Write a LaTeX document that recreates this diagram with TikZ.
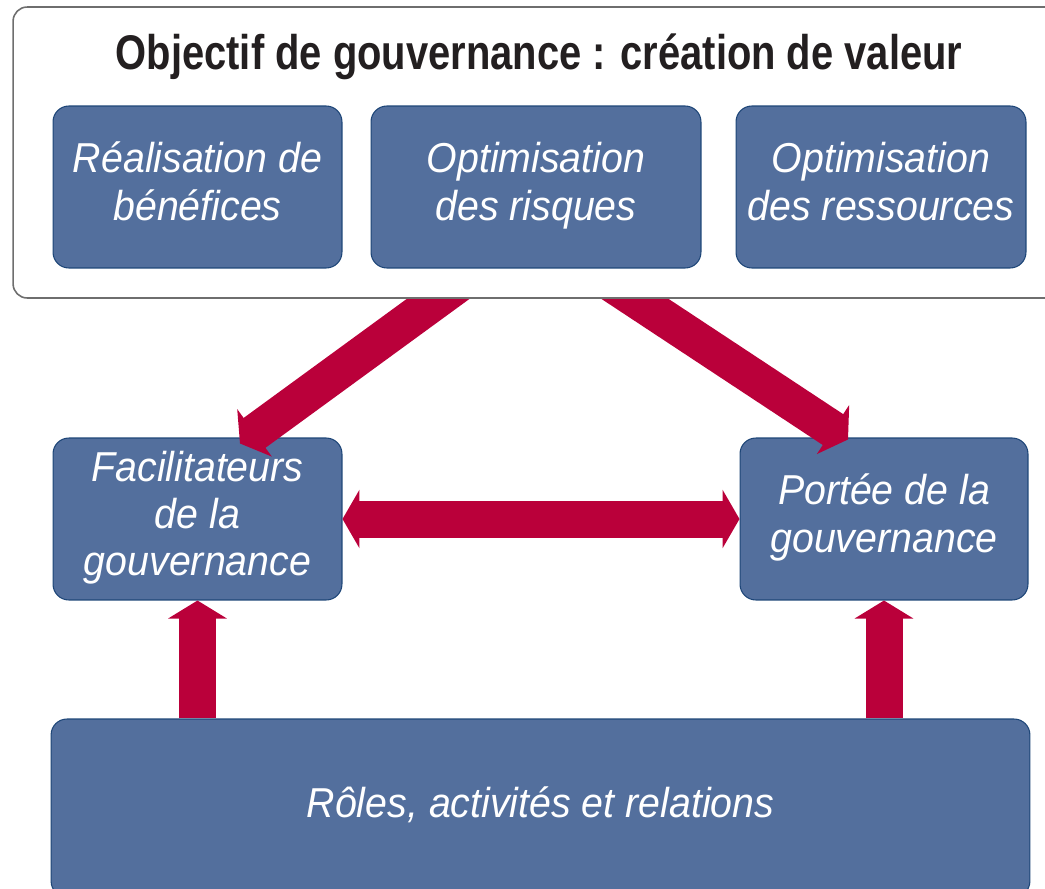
\documentclass[tikz,border=0pt]{standalone}
\usepackage{fontspec}
\usetikzlibrary{arrows.meta,calc}
\newfontfamily\boitefont{Liberation Sans}[FakeStretch=0.94]
\newfontfamily\titrefont{Liberation Sans}[FakeStretch=0.82]
\definecolor{fondbleu}{RGB}{83,111,157}
\definecolor{bordbleu}{RGB}{30,70,120}
\definecolor{rougeg}{RGB}{186,0,58}
\definecolor{grisbord}{RGB}{110,110,110}
\definecolor{noirtitre}{RGB}{35,31,32}
\tikzset{
  bloc/.style={draw=bordbleu, fill=fondbleu, line width=0.6pt, rounded corners=9pt,
    text=white, align=center, inner sep=0pt,
    font=\boitefont\itshape\fontsize{23.8}{27}\selectfont},
  fleche/.style={draw=rougeg, line width=0.74cm, -{Triangle[width=1.16cm,length=0.36cm]}},
  fleche2/.style={draw=rougeg, line width=0.74cm,
    {Triangle[width=1.16cm,length=0.34cm]}-{Triangle[width=1.16cm,length=0.34cm]}}
}
\begin{document}
\begin{tikzpicture}[x=0.02cm, y=-0.02cm]
    \useasboundingbox (0,0) rectangle (1045,889);
    \clip (0,0) rectangle (1045,889);

    \node[draw=grisbord, fill=white, line width=0.9pt, rounded corners=8pt,
      minimum width=21.04cm, minimum height=5.82cm] (cadre) at (539,152.5) {};
    \node[text=noirtitre, font=\titrefont\bfseries\fontsize{27.7}{30}\selectfont]
      (titre) at (539,57) {Objectif de gouvernance : création de valeur};

    \node[bloc, minimum width=5.78cm, minimum height=3.24cm] (ben) at (197.5,187)
      {\strut Réalisation de\\\strut bénéfices};
    \node[bloc, minimum width=6.6cm, minimum height=3.24cm] (risq) at (536,187)
      {\strut Optimisation\\\strut des risques};
    \node[bloc, minimum width=5.8cm, minimum height=3.24cm] (ress) at (881,187)
      {\strut Optimisation\\\strut des ressources};

    \node[bloc, minimum width=5.78cm, minimum height=3.24cm] (fac) at (197.5,519)
      {\strut Facilitateurs\\\strut de la\\\strut gouvernance};
    \node[bloc, minimum width=5.76cm, minimum height=3.24cm] (por) at (884,519)
      {\strut Portée de la\\\strut gouvernance};

    \node[bloc, minimum width=19.58cm, minimum height=3.56cm] (base) at (540.5,808)
      {\strut Rôles, activités et relations};

    \begin{scope}
      \clip ([yshift=-0.5pt]cadre.south west) rectangle (1045,889);
      \draw[fleche] ($(cadre.south)+(-76,-18)$) -- ($(fac.north)+(42.5,6)$);
      \draw[fleche] ($(cadre.south)+(70,-17)$) -- ($(por.north)+(-36,2)$);
    \end{scope}

    \draw[fleche2] (fac.east) -- (por.west);

    \draw[fleche] (base.north -| fac.south) -- (fac.south);
    \draw[fleche] (base.north -| por.south) -- (por.south);

\end{tikzpicture}
\end{document}
